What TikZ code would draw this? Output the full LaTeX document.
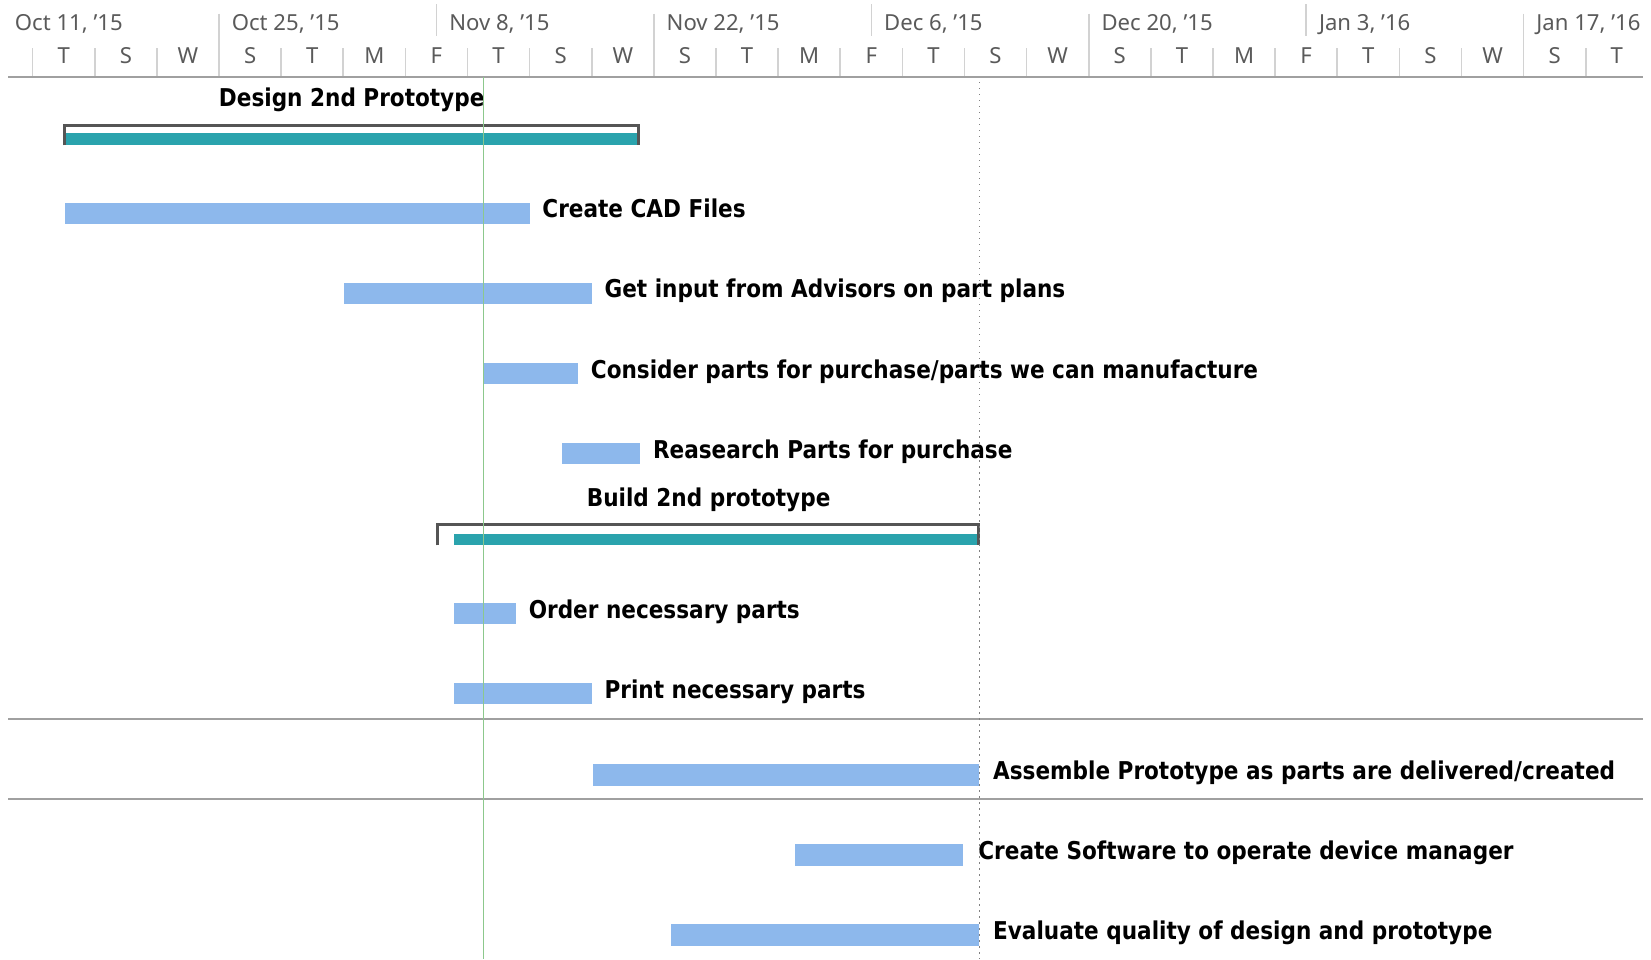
\documentclass[tikz,border=0pt]{standalone}
\usepackage{fontspec}
\setmainfont{Noto Sans}
\newfontfamily\lblfont{DejaVu Sans}[FakeStretch=0.88]
\definecolor{taskblue}{HTML}{8DB8EC}
\definecolor{sumteal}{HTML}{2AA3AD}
\definecolor{brk}{HTML}{555555}
\definecolor{hdrtxt}{HTML}{5A5A5A}
\definecolor{tickc}{HTML}{D2D2D2}
\definecolor{todayc}{HTML}{8CC88C}
\definecolor{sepl}{HTML}{A0A0A0}
\begin{document}
\begin{tikzpicture}[x=1pt,y=-1pt,
  taskbar/.style={fill=taskblue, draw=none, inner sep=0pt, outer sep=0pt, anchor=north west, minimum height=20pt},
  sumbar/.style={fill=sumteal, draw=none, inner sep=0pt, outer sep=0pt, anchor=north west},
  lbl/.style={font=\lblfont\bfseries\fontsize{23.3}{26}\selectfont, anchor=base west, inner sep=0pt, text=black},
  sumlbl/.style={font=\lblfont\bfseries\fontsize{23.3}{26}\selectfont, anchor=base, inner sep=0pt, text=black},
  hdr/.style={font=\fontsize{21}{24}\selectfont, text=hdrtxt, inner sep=0pt},
  bracket/.style={draw=brk, line width=3pt},
  tick/.style={draw=tickc, line width=1.5pt},
  sepline/.style={draw=sepl, line width=2pt}]
\useasboundingbox (0,0) rectangle (1568,911);
\fill[white] (0,0) rectangle (1568,911);

% ---- timescale header ----
\foreach \k in {0,...,25} {\draw[tick] ({31+59*\k},46) -- ({31+59*\k},73);}
\foreach \m in {0,...,3} {\draw[tick] ({208+413*\m},13) -- ({208+413*\m},73);}
\foreach \m in {0,...,2} {\draw[tick] ({414.5+413*\m},4) -- ({414.5+413*\m},34);}
\node[hdr, anchor=base west] (t0) at (14,29) {Oct 11, '15};
\node[hdr, anchor=base west] (t1) at (220,29) {Oct 25, '15};
\node[hdr, anchor=base west] (t2) at (426.5,29) {Nov 8, '15};
\node[hdr, anchor=base west] (t3) at (633,29) {Nov 22, '15};
\node[hdr, anchor=base west] (t4) at (839.5,29) {Dec 6, '15};
\node[hdr, anchor=base west] (t5) at (1046,29) {Dec 20, '15};
\node[hdr, anchor=base west] (t6) at (1252.5,29) {Jan 3, '16};
\node[hdr, anchor=base west] (t7) at (1459,29) {Jan 17, '16};
\foreach \lab [count=\i from 0] in {T,S,W,S,T,M,F,T,S,W,S,T,M,F,T,S,W,S,T,M,F,T,S,W,S,T}
  {\node[hdr, anchor=base] (d\i) at ({60.5+59*\i},60) {\lab};}
\draw[sepline] (8,73) -- (1560,73);

% ---- row separators ----
\draw[sepline] (8,683) -- (1560,683);
\draw[sepline] (8,759) -- (1560,759);

% ---- summary: Design 2nd Prototype ----
\node[sumlbl] (s1lbl) at (334,101) {Design 2nd Prototype};
\draw[bracket] (61.5,138) -- (61.5,119.5) -- (606.5,119.5) -- (606.5,138);
\node[sumbar, minimum width=542pt, minimum height=12pt] (s1bar) at (63,126) {};

% ---- tasks ----
\node[taskbar, minimum width=441pt] (b1) at (62,193) {};
\node[lbl] (l1) at (515,207) {Create CAD Files};
\node[taskbar, minimum width=235pt] (b2) at (327,269) {};
\node[lbl] (l2) at (574,283) {Get input from Advisors on part plans};
\node[taskbar, minimum width=90pt] (b3) at (459,345) {};
\node[lbl] (l3) at (561,359) {Consider parts for purchase/parts we can manufacture};
\node[taskbar, minimum width=74pt] (b4) at (534,421) {};
\node[lbl] (l4) at (620,435) {Reasearch Parts for purchase};

% ---- summary: Build 2nd prototype ----
\node[sumlbl] (s2lbl) at (673,481) {Build 2nd prototype};
\draw[bracket] (415.5,518) -- (415.5,498.5) -- (929.5,498.5) -- (929.5,518);
\node[sumbar, minimum width=497pt, minimum height=11pt] (s2bar) at (431,507) {};

\node[taskbar, minimum width=59pt] (b5) at (431,573) {};
\node[lbl] (l5) at (502,587) {Order necessary parts};
\node[taskbar, minimum width=131pt] (b6) at (431,649) {};
\node[lbl] (l6) at (574,663) {Print necessary parts};
\node[taskbar, minimum width=367pt] (b7) at (563,726) {};
\node[lbl] (l7) at (943,740) {Assemble Prototype as parts are delivered/created};
\node[taskbar, minimum width=160pt] (b8) at (755,802) {};
\node[lbl] (l8) at (929,816) {Create Software to operate device manager};
\node[taskbar, minimum width=293pt] (b9) at (637,878) {};
\node[lbl] (l9) at (943,892) {Evaluate quality of design and prototype};

% ---- status lines ----
\draw[gray, line width=1pt, dash pattern=on 1.2pt off 4.5pt] (930,78) -- (930,911);
\draw[todayc, line width=1.5pt] (459,73) -- (459,911);
\end{tikzpicture}
\end{document}
